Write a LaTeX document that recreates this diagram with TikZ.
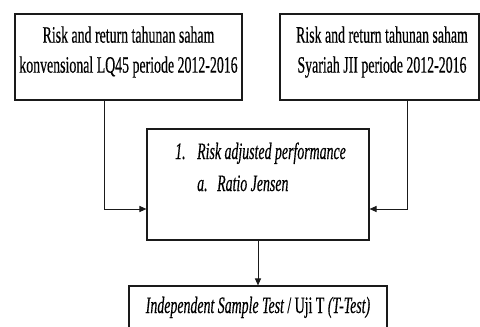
\documentclass[tikz,border=0pt]{standalone}
\usepackage{fontspec}
\usepackage{tikz}
\usetikzlibrary{positioning,arrows.meta}
\newfontfamily\flowfont[FakeStretch=0.59,FakeBold=0.4]{Liberation Serif}
\definecolor{boxline}{HTML}{1A1A1A}

\begin{document}
\begin{tikzpicture}[x=1pt, y=-1pt,
    box/.style={draw=boxline, line width=1.1pt, inner sep=0pt},
    txt/.style={font=\flowfont\fontsize{23.5}{30}\selectfont, inner sep=0pt, align=center},
    flow/.style={draw=boxline, line width=1pt, -{Triangle[length=7pt,width=6pt]}}]
      \useasboundingbox (0,0) rectangle (480,327);
      \clip (0,0) rectangle (480,327);

      % boxes
      \node[box, minimum width=227pt, minimum height=86pt] (lq) at (128.5,57) {};
      \node[box, minimum width=199pt, minimum height=86pt] (jii) at (379.5,57) {};
      \node[box, minimum width=222pt, minimum height=111pt] (rap) at (258,184.5) {};
      \node[box, minimum width=258pt, minimum height=60pt] (uji) at (258,316) {};

      % texts
      \node[txt] (lqtext) at (128.5,52) {Risk and return tahunan saham\\konvensional LQ45 periode 2012-2016};
      \node[txt] (jiitext) at (382,52) {Risk and return tahunan saham\\Syariah JII periode 2012-2016};
      \node[txt, anchor=base west] (num) at (175,159) {\itshape 1.};
      \node[txt, anchor=base west] (rapone) at (197,159) {\itshape Risk adjusted performance};
      \node[txt, anchor=base west] (let) at (197,191) {\itshape a.};
      \node[txt, anchor=base west] (raptwo) at (217,191) {\itshape Ratio Jensen};
      \node[txt, anchor=base] (ujitext) at (258,313) {\itshape Independent Sample Test\upshape{} / Uji T \itshape(T-Test)};

      % connectors
      \draw[flow] ([xshift=-24.5pt]lq.south) |- ([yshift=-24.5pt]rap.west);
      \draw[flow] ([xshift=27.5pt]jii.south) |- ([yshift=-24.5pt]rap.east);
      \draw[flow] (rap.south) -- (uji.north);
    \end{tikzpicture}
\end{document}
